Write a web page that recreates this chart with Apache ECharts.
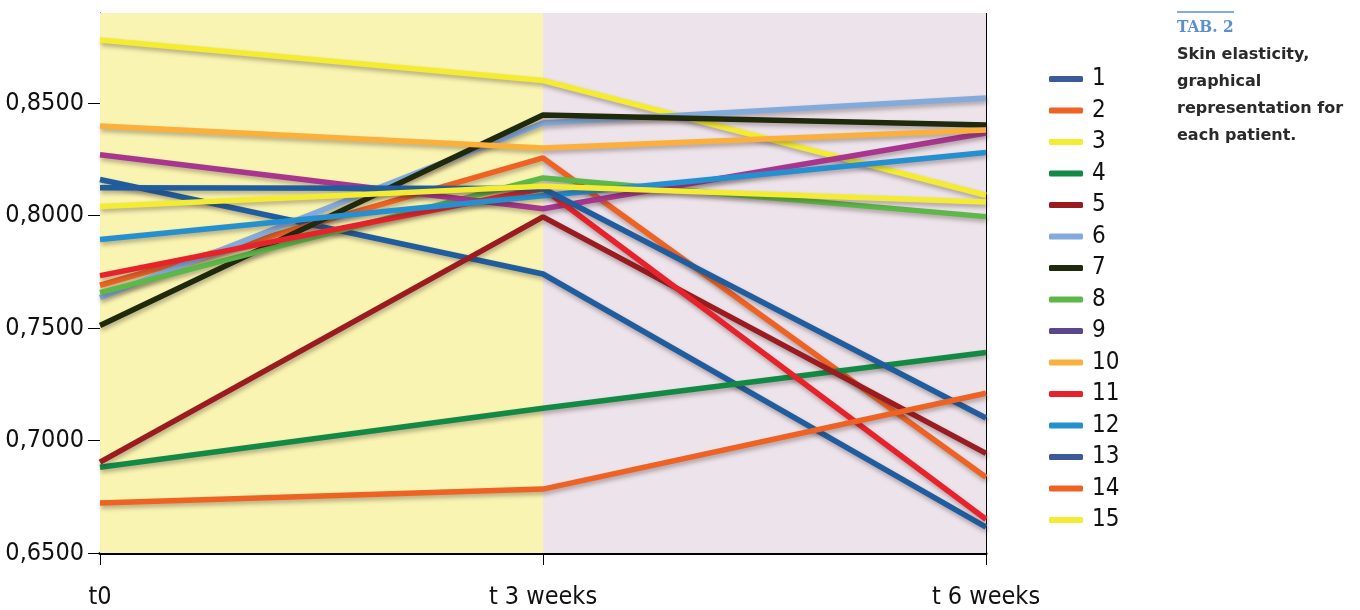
<!DOCTYPE html>
<html><head><meta charset="utf-8">
<script src="https://cdn.jsdelivr.net/npm/echarts@6/dist/echarts.min.js"></script>
<style>html,body{margin:0;padding:0;background:#fff}#c{width:1360px;height:610px}</style>
</head><body><div id="c"></div>
<script>
const categories = ['t0', 't 3 weeks', 't 6 weeks'];
const yTicks = [0.65, 0.70, 0.75, 0.80, 0.85];
const patients = ['1','2','3','4','5','6','7','8','9','10','11','12','13','14','15'];
const p1  = [0.816, 0.774, 0.6615];
const p2  = [0.769, 0.8256, 0.6837];
const p3  = [0.878, 0.860, 0.809];
const p4  = [0.6881, 0.7143, 0.7391];
const p5  = [0.6904, 0.7994, 0.6943];
const p6  = [0.7635, 0.8411, 0.8522];
const p7  = [0.7511, 0.8447, 0.8402];
const p8  = [0.7657, 0.8167, 0.7995];
const p9  = [0.827, 0.803, 0.8367];
const p10 = [0.8398, 0.830, 0.838];
const p11 = [0.7733, 0.812, 0.665];
const p12 = [0.7893, 0.8088, 0.828];
const p13 = [0.8123, 0.812, 0.710];
const p14 = [0.6722, 0.6784, 0.7210];
const p15 = [0.804, 0.813, 0.806];
const values = [p1,p2,p3,p4,p5,p6,p7,p8,p9,p10,p11,p12,p13,p14,p15];
const lineColors = ['#1f5d9e','#ee6223','#f3ec33','#128a45','#9a1b20','#82aadb','#1e2a0b','#5cb947','#a8368f','#fbb03b','#e8222a','#2490d0','#1f5d9e','#ee6223','#f3ec33'];
const legendColors = ['#3c5a99','#ee6223','#f3ec33','#128a45','#9a1b20','#82aadb','#1e2a0b','#5cb947','#5b478c','#fbb03b','#e8222a','#2490d0','#3c5a99','#ee6223','#f3ec33'];

const font = "'Liberation Sans Narrow','DejaVu Sans Condensed',sans-serif";
const chart = echarts.init(document.getElementById('c'));
const series = patients.map((name, i) => ({
  name, type: 'line', data: values[i], symbol: 'none', z: 3,
  lineStyle: { width: 5.5, color: lineColors[i], shadowColor: 'rgba(60,40,40,0.35)', shadowBlur: 4, shadowOffsetY: 3, shadowOffsetX: 1 },
  itemStyle: { color: lineColors[i] }
}));
series[0].markArea = {
  silent: true,
  data: [
    [{ xAxis: 't0', itemStyle: { color: '#f9f4b1' } }, { xAxis: 't 3 weeks' }],
    [{ xAxis: 't 3 weeks', itemStyle: { color: '#ede3ea' } }, { xAxis: 't 6 weeks' }]
  ]
};
chart.setOption({
  animation: false,
  grid: { left: 100, right: 374, top: 13, bottom: 57, outerBoundsMode: 'none', containLabel: false },
  title: {
    text: 'TAB. 2',
    left: 1172, top: 14,
    textStyle: { fontFamily: "'DejaVu Serif Condensed','DejaVu Serif',serif", fontWeight: 'bold', fontSize: 17, color: '#5b8fd0' },
    subtext: 'Skin elasticity,\ngraphical\nrepresentation for\neach patient.',
    itemGap: 5,
    subtextStyle: { fontFamily: "'DejaVu Sans',sans-serif", fontWeight: 'bold', fontSize: 16, color: '#2a2a2a', lineHeight: 27 }
  },
  graphic: [{ type: 'line', shape: { x1: 1177, y1: 12, x2: 1234, y2: 12 }, style: { stroke: '#5b8fd0', lineWidth: 1.5 } }],
  legend: {
    orient: 'vertical', left: 1044, top: 62,
    icon: 'roundRect', itemWidth: 34, itemHeight: 6, itemGap: 7.5,
    textStyle: { fontFamily: font, fontSize: 24, color: '#111', lineHeight: 24, padding: [0, 0, 0, 4] },
    data: patients.map((n, i) => ({ name: n, itemStyle: { color: legendColors[i] } }))
  },
  xAxis: {
    type: 'category', data: categories, boundaryGap: false,
    axisLine: { lineStyle: { color: '#000', width: 3 } },
    axisTick: { show: true, length: 12, lineStyle: { color: '#000', width: 1 } },
    axisLabel: { fontFamily: font, fontSize: 25, color: '#111', margin: 32 },
    splitLine: { show: true, lineStyle: { color: '#000', width: 1 } }
  },
  yAxis: {
    type: 'value', min: 0.65, max: 0.89,
    axisLine: { show: true, lineStyle: { color: '#000', width: 1 } },
    axisTick: { show: true, length: 12, customValues: yTicks, lineStyle: { color: '#000' } },
    axisLabel: { customValues: yTicks, fontFamily: font, fontSize: 25, color: '#111', margin: 16,
      formatter: v => v.toFixed(4).replace('.', ',') },
    splitLine: { show: true, lineStyle: { color: '#000', width: 1 } }
  },
  series
});
</script></body></html>
